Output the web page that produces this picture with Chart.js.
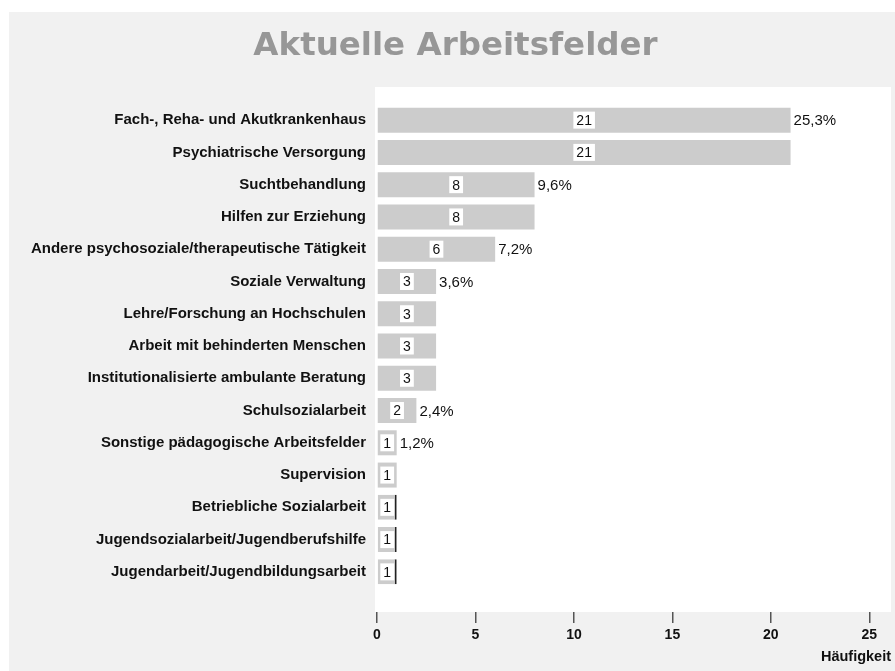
<!DOCTYPE html>
<html>
<head>
<meta charset="utf-8">
<script src="https://cdn.jsdelivr.net/npm/chart.js@4"></script>
<style>
html, body { margin: 0; padding: 0; background: #fff; }
#wrap { width: 895px; height: 671px; }
</style>
</head>
<body>
<div id="wrap"><canvas id="myChart"></canvas></div>
<script>
const categories = [
	'Fach-, Reha- und Akutkrankenhaus',
	'Psychiatrische Versorgung',
	'Suchtbehandlung',
	'Hilfen zur Erziehung',
	'Andere psychosoziale/therapeutische Tätigkeit',
	'Soziale Verwaltung',
	'Lehre/Forschung an Hochschulen',
	'Arbeit mit behinderten Menschen',
	'Institutionalisierte ambulante Beratung',
	'Schulsozialarbeit',
	'Sonstige pädagogische Arbeitsfelder',
	'Supervision',
	'Betriebliche Sozialarbeit',
	'Jugendsozialarbeit/Jugendberufshilfe',
	'Jugendarbeit/Jugendbildungsarbeit'
];
const counts = [21, 21, 8, 8, 6, 3, 3, 3, 3, 2, 1, 1, 1, 1, 1];
const percentLabels = ['25,3%', null, '9,6%', null, '7,2%', '3,6%', null, null, null, '2,4%', '1,2%', null, null, null, null];
const xTicks = [0, 5, 10, 15, 20, 25];

const ctx = document.getElementById('myChart');
Chart.defaults.font.family = '"Liberation Sans", Arial, sans-serif';

// grey page + white plot panel (panel drawn over the upper part of the tick marks)
const backdrop = {
	id: 'backdrop',
	beforeDraw(chart) {
		const c = chart.ctx;
		c.save();
		c.fillStyle = '#f1f1f1';
		c.fillRect(9, 12, chart.width - 9, chart.height - 12);
		c.restore();
	},
	beforeDatasetsDraw(chart) {
		const c = chart.ctx, a = chart.chartArea;
		c.save();
		c.fillStyle = '#fff';
		c.fillRect(a.left - 2, a.top - 17, a.right - a.left + 2, a.bottom - a.top + 41);
		c.restore();
	}
};

const barLabels = {
	id: 'barLabels',
	afterDatasetsDraw(chart) {
		const c = chart.ctx;
		const meta = chart.getDatasetMeta(0);
		c.save();
		c.textBaseline = 'middle';
		meta.data.forEach((bar, i) => {
			const cx = (bar.x + bar.base) / 2;
			const txt = String(counts[i]);
			c.font = '14px "Liberation Sans"';
			const w = c.measureText(txt).width + 6;
			c.fillStyle = '#fff';
			c.fillRect(cx - w / 2, bar.y - 8.5, w, 17);
			c.fillStyle = '#111';
			c.textAlign = 'center';
			c.fillText(txt, cx, bar.y + 1);
			if (percentLabels[i]) {
				c.font = '15px "Liberation Sans"';
				c.textAlign = 'left';
				c.fillText(percentLabels[i], bar.x + 3, bar.y + 1);
			}
		});
		c.restore();
	}
};

new Chart(ctx, {
	type: 'bar',
	data: {
		labels: categories,
		datasets: [{
			data: counts,
			backgroundColor: '#cccccc',
			borderColor: '#222',
			borderWidth: (c) => c.dataIndex >= 12 ? {top: 0, right: 2, bottom: 0, left: 0} : 0,
			barPercentage: 0.775,
			categoryPercentage: 1
		}]
	},
	plugins: [backdrop, barLabels],
	options: {
		indexAxis: 'y',
		responsive: true,
		maintainAspectRatio: false,
		animation: false,
		layout: { padding: { left: 20, right: 4, top: 0, bottom: 0 } },
		plugins: {
			legend: { display: false },
			tooltip: { enabled: false },
			title: {
				display: true,
				text: 'Aktuelle Arbeitsfelder',
				color: '#979797',
				font: { family: '"DejaVu Sans"', size: 32.5, weight: 'bold', lineHeight: 1.2 },
				padding: { top: 27, bottom: 38 }
			}
		},
		scales: {
			x: {
				position: 'bottom',
				min: 0,
				max: 26.1,
				afterBuildTicks: (s) => { s.ticks = xTicks.map(v => ({ value: v })); },
				afterFit: (s) => { s.height = 83; },
				grid: { drawOnChartArea: false, drawTicks: true, tickLength: 35, color: '#555', lineWidth: 1.5 },
				border: { display: false },
				ticks: { color: '#111', padding: 4, font: { size: 14, weight: 'bold' } },
				title: {
					display: true,
					text: 'Häufigkeit',
					align: 'end',
					color: '#111',
					font: { size: 14.5, weight: 'bold' },
					padding: { top: 0, bottom: 5 }
				}
			},
			y: {
				afterFit: (s) => { s.width = 357; },
				grid: { display: false, drawTicks: false, tickLength: 0 },
				border: { display: false },
				ticks: { color: '#111', padding: 11, font: { size: 15, weight: 'bold' } }
			}
		}
	}
});
</script>
</body>
</html>
